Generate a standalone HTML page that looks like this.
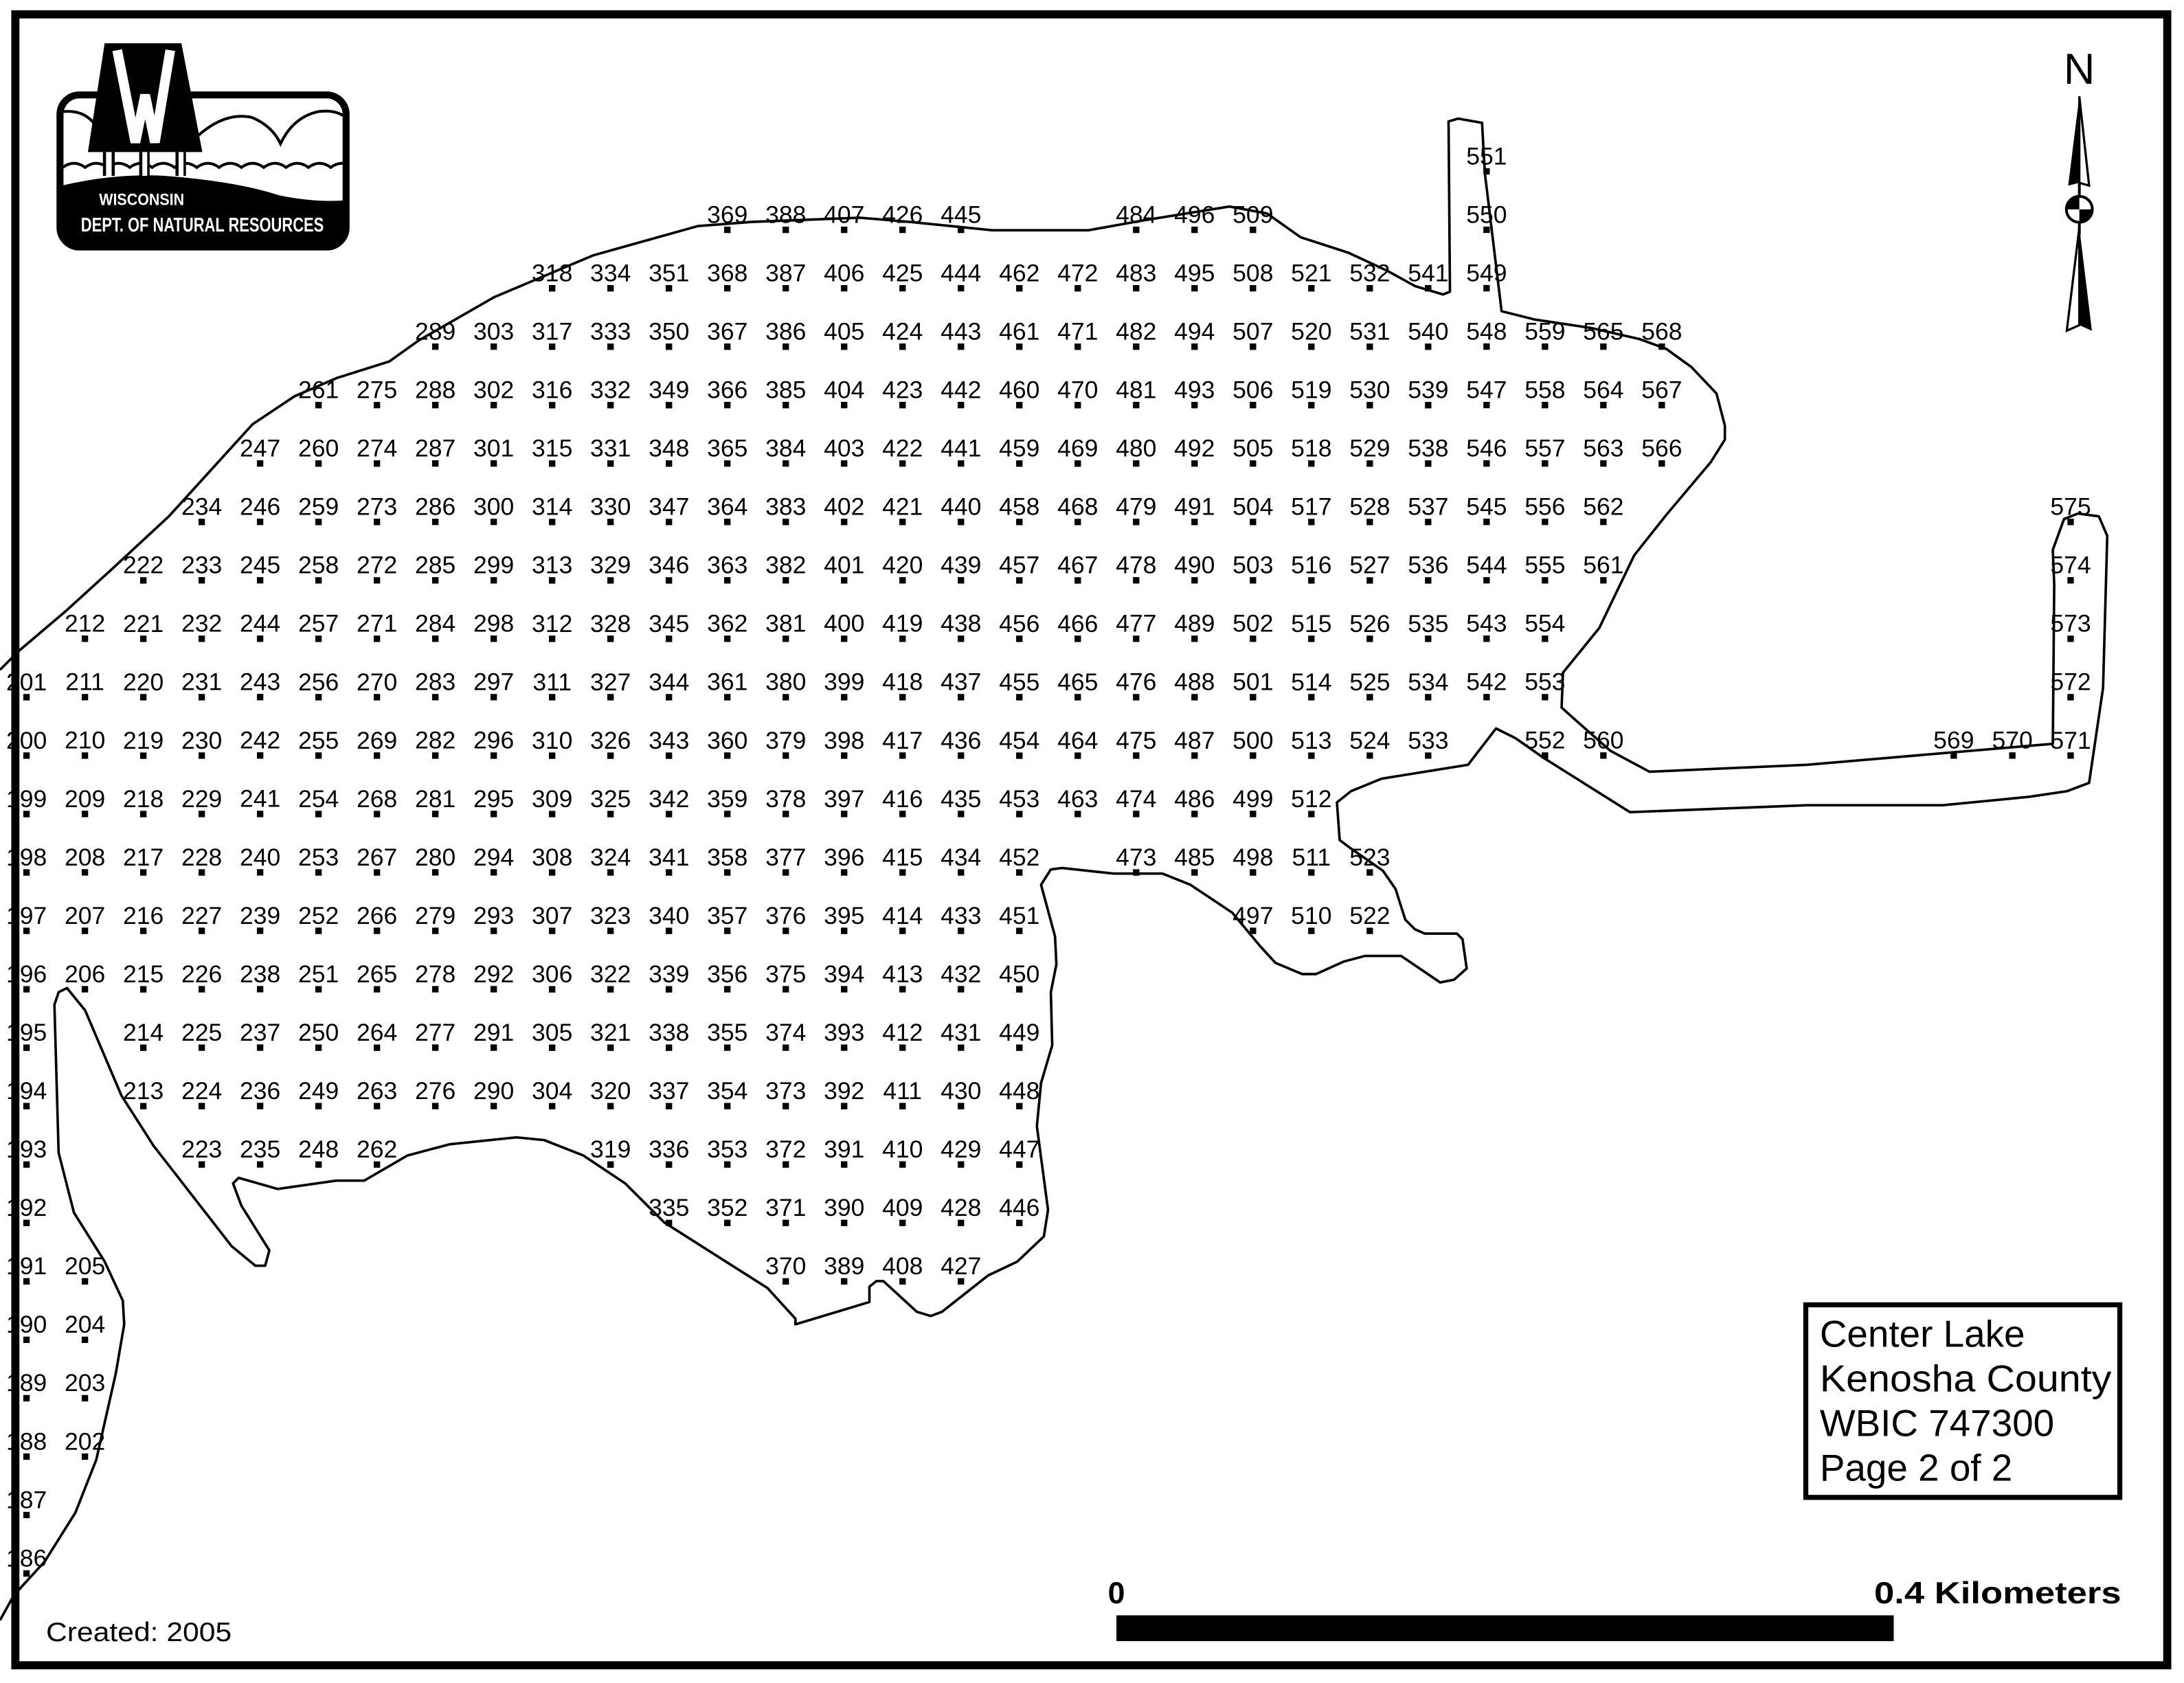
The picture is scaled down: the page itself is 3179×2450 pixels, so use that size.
<!DOCTYPE html>
<html><head><meta charset="utf-8"><style>
html,body{margin:0;padding:0;background:#fff}
svg{display:block}
.l{font-family:"Liberation Sans",sans-serif;font-size:17.5px;text-anchor:middle;fill:#000}
.d{stroke:#000;stroke-width:4.6;stroke-dasharray:4.6 37.26}
</style></head><body>
<svg width="3179" height="2450" viewBox="0 0 1565 1206" preserveAspectRatio="none" xmlns="http://www.w3.org/2000/svg">
<rect x="0" y="0" width="1565" height="1206" fill="#fff"/>
<defs><clipPath id="lc"><rect x="43" y="68" width="205" height="109" rx="14"/></clipPath></defs>

<polyline fill="none" stroke="#000" stroke-width="1.8" stroke-linejoin="round" points="0,480 14,466 47,438 80,408 121,370 181,304 211,284 241,271 279,259 300,244 354,213 425,183 500,162 539,159 616,156 652,159 711,165 780,165 819,158 881,148 908,153 932,170 966,181 994,194 1014,205 1034,211 1039,209 1038,87 1045,85 1062,88 1064,124 1076,223 1100,229 1140,235 1175,243 1194,250 1212,263 1230,282 1236,305 1236,315 1226,331 1194,369 1171,398 1146,450 1120,482 1119,507 1129,516 1154,538 1182,553 1295,548 1471,533 1472,419 1471,394 1479,372 1489,368 1504,370 1510,384 1507,493 1497,561 1481,567 1454,571 1392,577 1295,577 1168,582 1106,543 1086,529 1072,522 1052,548 990,558 968,567 958,575 960,602 968,608 991,624 1000,637 1007,659 1014,666 1021,669 1044,669 1048,673 1051,694 1042,702 1032,704 1004,685 978,685 963,689 943,698 933,698 914,690 903,678 883,654 853,634 833,626 798,626 761,622 753,623 746,634 756,671 757,691 753,711 754,749 746,776 743,807 751,867 748,886 729,904 708,914 675,940 667,943 657,940 633,918 628,918 623,922 623,933 570,949 570,945 550,923 476,876 448,848 418,828 390,817 370,815 322,820 292,828 261,846 241,846 199,852 171,844 167,848 173,864 193,896 190,907 183,907 166,893 110,821 87,785 61,724 48,708 42,711 39,720 42,826 53,869 75,904 88,932 89,949 83,984 69,1046 54,1084 32,1119 10,1143 0,1161"/>

<g class="d">
<line x1="19" x2="19" y1="497.3" y2="1129.8"/>
<line x1="60.85" x2="60.85" y1="455.4" y2="711.2"/>
<line x1="60.85" x2="60.85" y1="915.9" y2="1046.1"/>
<line x1="102.7" x2="102.7" y1="413.6" y2="794.9"/>
<line x1="144.55" x2="144.55" y1="371.7" y2="836.8"/>
<line x1="186.4" x2="186.4" y1="329.8" y2="836.8"/>
<line x1="228.25" x2="228.25" y1="288" y2="836.8"/>
<line x1="270.1" x2="270.1" y1="288" y2="836.8"/>
<line x1="311.95" x2="311.95" y1="246.1" y2="794.9"/>
<line x1="353.8" x2="353.8" y1="246.1" y2="794.9"/>
<line x1="395.65" x2="395.65" y1="204.3" y2="794.9"/>
<line x1="437.5" x2="437.5" y1="204.3" y2="836.8"/>
<line x1="479.35" x2="479.35" y1="204.3" y2="878.6"/>
<line x1="521.2" x2="521.2" y1="162.4" y2="878.6"/>
<line x1="563.05" x2="563.05" y1="162.4" y2="920.5"/>
<line x1="604.9" x2="604.9" y1="162.4" y2="920.5"/>
<line x1="646.75" x2="646.75" y1="162.4" y2="920.5"/>
<line x1="688.6" x2="688.6" y1="162.4" y2="920.5"/>
<line x1="730.45" x2="730.45" y1="204.3" y2="878.6"/>
<line x1="772.3" x2="772.3" y1="204.3" y2="585.6"/>
<line x1="814.15" x2="814.15" y1="162.4" y2="627.5"/>
<line x1="856" x2="856" y1="162.4" y2="627.5"/>
<line x1="897.85" x2="897.85" y1="162.4" y2="669.3"/>
<line x1="939.7" x2="939.7" y1="204.3" y2="669.3"/>
<line x1="981.55" x2="981.55" y1="204.3" y2="543.7"/>
<line x1="981.55" x2="981.55" y1="622.9" y2="669.3"/>
<line x1="1023.4" x2="1023.4" y1="204.3" y2="543.7"/>
<line x1="1065.25" x2="1065.25" y1="120.5" y2="501.9"/>
<line x1="1107.1" x2="1107.1" y1="246.1" y2="543.7"/>
<line x1="1148.95" x2="1148.95" y1="246.1" y2="418.2"/>
<line x1="1148.95" x2="1148.95" y1="539.1" y2="543.7"/>
<line x1="1190.8" x2="1190.8" y1="246.1" y2="334.4"/>
<line x1="1400" x2="1400" y1="539.1" y2="543.7"/>
<line x1="1442" x2="1442" y1="539.1" y2="543.7"/>
<line x1="1483.75" x2="1483.75" y1="371.7" y2="543.7"/>
</g>

<g class="l">
<g transform="translate(19,6.3)"><text y="488.3"><tspan x="0">201</tspan><tspan x="0" dy="41.86">200</tspan><tspan x="0" dy="41.86">199</tspan><tspan x="0" dy="41.86">198</tspan><tspan x="0" dy="41.86">197</tspan><tspan x="0" dy="41.86">196</tspan><tspan x="0" dy="41.86">195</tspan><tspan x="0" dy="41.86">194</tspan><tspan x="0" dy="41.86">193</tspan><tspan x="0" dy="41.86">192</tspan><tspan x="0" dy="41.86">191</tspan><tspan x="0" dy="41.86">190</tspan><tspan x="0" dy="41.86">189</tspan><tspan x="0" dy="41.86">188</tspan><tspan x="0" dy="41.86">187</tspan><tspan x="0" dy="41.86">186</tspan></text></g>
<g transform="translate(60.85,6.3)"><text y="446.4"><tspan x="0">212</tspan><tspan x="0" dy="41.86">211</tspan><tspan x="0" dy="41.86">210</tspan><tspan x="0" dy="41.86">209</tspan><tspan x="0" dy="41.86">208</tspan><tspan x="0" dy="41.86">207</tspan><tspan x="0" dy="41.86">206</tspan></text><text y="906.9"><tspan x="0">205</tspan><tspan x="0" dy="41.86">204</tspan><tspan x="0" dy="41.86">203</tspan><tspan x="0" dy="41.86">202</tspan></text></g>
<g transform="translate(102.7,6.3)"><text y="404.6"><tspan x="0">222</tspan><tspan x="0" dy="41.86">221</tspan><tspan x="0" dy="41.86">220</tspan><tspan x="0" dy="41.86">219</tspan><tspan x="0" dy="41.86">218</tspan><tspan x="0" dy="41.86">217</tspan><tspan x="0" dy="41.86">216</tspan><tspan x="0" dy="41.86">215</tspan><tspan x="0" dy="41.86">214</tspan><tspan x="0" dy="41.86">213</tspan></text></g>
<g transform="translate(144.55,6.3)"><text y="362.7"><tspan x="0">234</tspan><tspan x="0" dy="41.86">233</tspan><tspan x="0" dy="41.86">232</tspan><tspan x="0" dy="41.86">231</tspan><tspan x="0" dy="41.86">230</tspan><tspan x="0" dy="41.86">229</tspan><tspan x="0" dy="41.86">228</tspan><tspan x="0" dy="41.86">227</tspan><tspan x="0" dy="41.86">226</tspan><tspan x="0" dy="41.86">225</tspan><tspan x="0" dy="41.86">224</tspan><tspan x="0" dy="41.86">223</tspan></text></g>
<g transform="translate(186.4,6.3)"><text y="320.8"><tspan x="0">247</tspan><tspan x="0" dy="41.86">246</tspan><tspan x="0" dy="41.86">245</tspan><tspan x="0" dy="41.86">244</tspan><tspan x="0" dy="41.86">243</tspan><tspan x="0" dy="41.86">242</tspan><tspan x="0" dy="41.86">241</tspan><tspan x="0" dy="41.86">240</tspan><tspan x="0" dy="41.86">239</tspan><tspan x="0" dy="41.86">238</tspan><tspan x="0" dy="41.86">237</tspan><tspan x="0" dy="41.86">236</tspan><tspan x="0" dy="41.86">235</tspan></text></g>
<g transform="translate(228.25,6.3)"><text y="279"><tspan x="0">261</tspan><tspan x="0" dy="41.86">260</tspan><tspan x="0" dy="41.86">259</tspan><tspan x="0" dy="41.86">258</tspan><tspan x="0" dy="41.86">257</tspan><tspan x="0" dy="41.86">256</tspan><tspan x="0" dy="41.86">255</tspan><tspan x="0" dy="41.86">254</tspan><tspan x="0" dy="41.86">253</tspan><tspan x="0" dy="41.86">252</tspan><tspan x="0" dy="41.86">251</tspan><tspan x="0" dy="41.86">250</tspan><tspan x="0" dy="41.86">249</tspan><tspan x="0" dy="41.86">248</tspan></text></g>
<g transform="translate(270.1,6.3)"><text y="279"><tspan x="0">275</tspan><tspan x="0" dy="41.86">274</tspan><tspan x="0" dy="41.86">273</tspan><tspan x="0" dy="41.86">272</tspan><tspan x="0" dy="41.86">271</tspan><tspan x="0" dy="41.86">270</tspan><tspan x="0" dy="41.86">269</tspan><tspan x="0" dy="41.86">268</tspan><tspan x="0" dy="41.86">267</tspan><tspan x="0" dy="41.86">266</tspan><tspan x="0" dy="41.86">265</tspan><tspan x="0" dy="41.86">264</tspan><tspan x="0" dy="41.86">263</tspan><tspan x="0" dy="41.86">262</tspan></text></g>
<g transform="translate(311.95,6.3)"><text y="237.1"><tspan x="0">289</tspan><tspan x="0" dy="41.86">288</tspan><tspan x="0" dy="41.86">287</tspan><tspan x="0" dy="41.86">286</tspan><tspan x="0" dy="41.86">285</tspan><tspan x="0" dy="41.86">284</tspan><tspan x="0" dy="41.86">283</tspan><tspan x="0" dy="41.86">282</tspan><tspan x="0" dy="41.86">281</tspan><tspan x="0" dy="41.86">280</tspan><tspan x="0" dy="41.86">279</tspan><tspan x="0" dy="41.86">278</tspan><tspan x="0" dy="41.86">277</tspan><tspan x="0" dy="41.86">276</tspan></text></g>
<g transform="translate(353.8,6.3)"><text y="237.1"><tspan x="0">303</tspan><tspan x="0" dy="41.86">302</tspan><tspan x="0" dy="41.86">301</tspan><tspan x="0" dy="41.86">300</tspan><tspan x="0" dy="41.86">299</tspan><tspan x="0" dy="41.86">298</tspan><tspan x="0" dy="41.86">297</tspan><tspan x="0" dy="41.86">296</tspan><tspan x="0" dy="41.86">295</tspan><tspan x="0" dy="41.86">294</tspan><tspan x="0" dy="41.86">293</tspan><tspan x="0" dy="41.86">292</tspan><tspan x="0" dy="41.86">291</tspan><tspan x="0" dy="41.86">290</tspan></text></g>
<g transform="translate(395.65,6.3)"><text y="195.3"><tspan x="0">318</tspan><tspan x="0" dy="41.86">317</tspan><tspan x="0" dy="41.86">316</tspan><tspan x="0" dy="41.86">315</tspan><tspan x="0" dy="41.86">314</tspan><tspan x="0" dy="41.86">313</tspan><tspan x="0" dy="41.86">312</tspan><tspan x="0" dy="41.86">311</tspan><tspan x="0" dy="41.86">310</tspan><tspan x="0" dy="41.86">309</tspan><tspan x="0" dy="41.86">308</tspan><tspan x="0" dy="41.86">307</tspan><tspan x="0" dy="41.86">306</tspan><tspan x="0" dy="41.86">305</tspan><tspan x="0" dy="41.86">304</tspan></text></g>
<g transform="translate(437.5,6.3)"><text y="195.3"><tspan x="0">334</tspan><tspan x="0" dy="41.86">333</tspan><tspan x="0" dy="41.86">332</tspan><tspan x="0" dy="41.86">331</tspan><tspan x="0" dy="41.86">330</tspan><tspan x="0" dy="41.86">329</tspan><tspan x="0" dy="41.86">328</tspan><tspan x="0" dy="41.86">327</tspan><tspan x="0" dy="41.86">326</tspan><tspan x="0" dy="41.86">325</tspan><tspan x="0" dy="41.86">324</tspan><tspan x="0" dy="41.86">323</tspan><tspan x="0" dy="41.86">322</tspan><tspan x="0" dy="41.86">321</tspan><tspan x="0" dy="41.86">320</tspan><tspan x="0" dy="41.86">319</tspan></text></g>
<g transform="translate(479.35,6.3)"><text y="195.3"><tspan x="0">351</tspan><tspan x="0" dy="41.86">350</tspan><tspan x="0" dy="41.86">349</tspan><tspan x="0" dy="41.86">348</tspan><tspan x="0" dy="41.86">347</tspan><tspan x="0" dy="41.86">346</tspan><tspan x="0" dy="41.86">345</tspan><tspan x="0" dy="41.86">344</tspan><tspan x="0" dy="41.86">343</tspan><tspan x="0" dy="41.86">342</tspan><tspan x="0" dy="41.86">341</tspan><tspan x="0" dy="41.86">340</tspan><tspan x="0" dy="41.86">339</tspan><tspan x="0" dy="41.86">338</tspan><tspan x="0" dy="41.86">337</tspan><tspan x="0" dy="41.86">336</tspan><tspan x="0" dy="41.86">335</tspan></text></g>
<g transform="translate(521.2,6.3)"><text y="153.4"><tspan x="0">369</tspan><tspan x="0" dy="41.86">368</tspan><tspan x="0" dy="41.86">367</tspan><tspan x="0" dy="41.86">366</tspan><tspan x="0" dy="41.86">365</tspan><tspan x="0" dy="41.86">364</tspan><tspan x="0" dy="41.86">363</tspan><tspan x="0" dy="41.86">362</tspan><tspan x="0" dy="41.86">361</tspan><tspan x="0" dy="41.86">360</tspan><tspan x="0" dy="41.86">359</tspan><tspan x="0" dy="41.86">358</tspan><tspan x="0" dy="41.86">357</tspan><tspan x="0" dy="41.86">356</tspan><tspan x="0" dy="41.86">355</tspan><tspan x="0" dy="41.86">354</tspan><tspan x="0" dy="41.86">353</tspan><tspan x="0" dy="41.86">352</tspan></text></g>
<g transform="translate(563.05,6.3)"><text y="153.4"><tspan x="0">388</tspan><tspan x="0" dy="41.86">387</tspan><tspan x="0" dy="41.86">386</tspan><tspan x="0" dy="41.86">385</tspan><tspan x="0" dy="41.86">384</tspan><tspan x="0" dy="41.86">383</tspan><tspan x="0" dy="41.86">382</tspan><tspan x="0" dy="41.86">381</tspan><tspan x="0" dy="41.86">380</tspan><tspan x="0" dy="41.86">379</tspan><tspan x="0" dy="41.86">378</tspan><tspan x="0" dy="41.86">377</tspan><tspan x="0" dy="41.86">376</tspan><tspan x="0" dy="41.86">375</tspan><tspan x="0" dy="41.86">374</tspan><tspan x="0" dy="41.86">373</tspan><tspan x="0" dy="41.86">372</tspan><tspan x="0" dy="41.86">371</tspan><tspan x="0" dy="41.86">370</tspan></text></g>
<g transform="translate(604.9,6.3)"><text y="153.4"><tspan x="0">407</tspan><tspan x="0" dy="41.86">406</tspan><tspan x="0" dy="41.86">405</tspan><tspan x="0" dy="41.86">404</tspan><tspan x="0" dy="41.86">403</tspan><tspan x="0" dy="41.86">402</tspan><tspan x="0" dy="41.86">401</tspan><tspan x="0" dy="41.86">400</tspan><tspan x="0" dy="41.86">399</tspan><tspan x="0" dy="41.86">398</tspan><tspan x="0" dy="41.86">397</tspan><tspan x="0" dy="41.86">396</tspan><tspan x="0" dy="41.86">395</tspan><tspan x="0" dy="41.86">394</tspan><tspan x="0" dy="41.86">393</tspan><tspan x="0" dy="41.86">392</tspan><tspan x="0" dy="41.86">391</tspan><tspan x="0" dy="41.86">390</tspan><tspan x="0" dy="41.86">389</tspan></text></g>
<g transform="translate(646.75,6.3)"><text y="153.4"><tspan x="0">426</tspan><tspan x="0" dy="41.86">425</tspan><tspan x="0" dy="41.86">424</tspan><tspan x="0" dy="41.86">423</tspan><tspan x="0" dy="41.86">422</tspan><tspan x="0" dy="41.86">421</tspan><tspan x="0" dy="41.86">420</tspan><tspan x="0" dy="41.86">419</tspan><tspan x="0" dy="41.86">418</tspan><tspan x="0" dy="41.86">417</tspan><tspan x="0" dy="41.86">416</tspan><tspan x="0" dy="41.86">415</tspan><tspan x="0" dy="41.86">414</tspan><tspan x="0" dy="41.86">413</tspan><tspan x="0" dy="41.86">412</tspan><tspan x="0" dy="41.86">411</tspan><tspan x="0" dy="41.86">410</tspan><tspan x="0" dy="41.86">409</tspan><tspan x="0" dy="41.86">408</tspan></text></g>
<g transform="translate(688.6,6.3)"><text y="153.4"><tspan x="0">445</tspan><tspan x="0" dy="41.86">444</tspan><tspan x="0" dy="41.86">443</tspan><tspan x="0" dy="41.86">442</tspan><tspan x="0" dy="41.86">441</tspan><tspan x="0" dy="41.86">440</tspan><tspan x="0" dy="41.86">439</tspan><tspan x="0" dy="41.86">438</tspan><tspan x="0" dy="41.86">437</tspan><tspan x="0" dy="41.86">436</tspan><tspan x="0" dy="41.86">435</tspan><tspan x="0" dy="41.86">434</tspan><tspan x="0" dy="41.86">433</tspan><tspan x="0" dy="41.86">432</tspan><tspan x="0" dy="41.86">431</tspan><tspan x="0" dy="41.86">430</tspan><tspan x="0" dy="41.86">429</tspan><tspan x="0" dy="41.86">428</tspan><tspan x="0" dy="41.86">427</tspan></text></g>
<g transform="translate(730.45,6.3)"><text y="195.3"><tspan x="0">462</tspan><tspan x="0" dy="41.86">461</tspan><tspan x="0" dy="41.86">460</tspan><tspan x="0" dy="41.86">459</tspan><tspan x="0" dy="41.86">458</tspan><tspan x="0" dy="41.86">457</tspan><tspan x="0" dy="41.86">456</tspan><tspan x="0" dy="41.86">455</tspan><tspan x="0" dy="41.86">454</tspan><tspan x="0" dy="41.86">453</tspan><tspan x="0" dy="41.86">452</tspan><tspan x="0" dy="41.86">451</tspan><tspan x="0" dy="41.86">450</tspan><tspan x="0" dy="41.86">449</tspan><tspan x="0" dy="41.86">448</tspan><tspan x="0" dy="41.86">447</tspan><tspan x="0" dy="41.86">446</tspan></text></g>
<g transform="translate(772.3,6.3)"><text y="195.3"><tspan x="0">472</tspan><tspan x="0" dy="41.86">471</tspan><tspan x="0" dy="41.86">470</tspan><tspan x="0" dy="41.86">469</tspan><tspan x="0" dy="41.86">468</tspan><tspan x="0" dy="41.86">467</tspan><tspan x="0" dy="41.86">466</tspan><tspan x="0" dy="41.86">465</tspan><tspan x="0" dy="41.86">464</tspan><tspan x="0" dy="41.86">463</tspan></text></g>
<g transform="translate(814.15,6.3)"><text y="153.4"><tspan x="0">484</tspan><tspan x="0" dy="41.86">483</tspan><tspan x="0" dy="41.86">482</tspan><tspan x="0" dy="41.86">481</tspan><tspan x="0" dy="41.86">480</tspan><tspan x="0" dy="41.86">479</tspan><tspan x="0" dy="41.86">478</tspan><tspan x="0" dy="41.86">477</tspan><tspan x="0" dy="41.86">476</tspan><tspan x="0" dy="41.86">475</tspan><tspan x="0" dy="41.86">474</tspan><tspan x="0" dy="41.86">473</tspan></text></g>
<g transform="translate(856,6.3)"><text y="153.4"><tspan x="0">496</tspan><tspan x="0" dy="41.86">495</tspan><tspan x="0" dy="41.86">494</tspan><tspan x="0" dy="41.86">493</tspan><tspan x="0" dy="41.86">492</tspan><tspan x="0" dy="41.86">491</tspan><tspan x="0" dy="41.86">490</tspan><tspan x="0" dy="41.86">489</tspan><tspan x="0" dy="41.86">488</tspan><tspan x="0" dy="41.86">487</tspan><tspan x="0" dy="41.86">486</tspan><tspan x="0" dy="41.86">485</tspan></text></g>
<g transform="translate(897.85,6.3)"><text y="153.4"><tspan x="0">509</tspan><tspan x="0" dy="41.86">508</tspan><tspan x="0" dy="41.86">507</tspan><tspan x="0" dy="41.86">506</tspan><tspan x="0" dy="41.86">505</tspan><tspan x="0" dy="41.86">504</tspan><tspan x="0" dy="41.86">503</tspan><tspan x="0" dy="41.86">502</tspan><tspan x="0" dy="41.86">501</tspan><tspan x="0" dy="41.86">500</tspan><tspan x="0" dy="41.86">499</tspan><tspan x="0" dy="41.86">498</tspan><tspan x="0" dy="41.86">497</tspan></text></g>
<g transform="translate(939.7,6.3)"><text y="195.3"><tspan x="0">521</tspan><tspan x="0" dy="41.86">520</tspan><tspan x="0" dy="41.86">519</tspan><tspan x="0" dy="41.86">518</tspan><tspan x="0" dy="41.86">517</tspan><tspan x="0" dy="41.86">516</tspan><tspan x="0" dy="41.86">515</tspan><tspan x="0" dy="41.86">514</tspan><tspan x="0" dy="41.86">513</tspan><tspan x="0" dy="41.86">512</tspan><tspan x="0" dy="41.86">511</tspan><tspan x="0" dy="41.86">510</tspan></text></g>
<g transform="translate(981.55,6.3)"><text y="195.3"><tspan x="0">532</tspan><tspan x="0" dy="41.86">531</tspan><tspan x="0" dy="41.86">530</tspan><tspan x="0" dy="41.86">529</tspan><tspan x="0" dy="41.86">528</tspan><tspan x="0" dy="41.86">527</tspan><tspan x="0" dy="41.86">526</tspan><tspan x="0" dy="41.86">525</tspan><tspan x="0" dy="41.86">524</tspan></text><text y="613.9"><tspan x="0">523</tspan><tspan x="0" dy="41.86">522</tspan></text></g>
<g transform="translate(1023.4,6.3)"><text y="195.3"><tspan x="0">541</tspan><tspan x="0" dy="41.86">540</tspan><tspan x="0" dy="41.86">539</tspan><tspan x="0" dy="41.86">538</tspan><tspan x="0" dy="41.86">537</tspan><tspan x="0" dy="41.86">536</tspan><tspan x="0" dy="41.86">535</tspan><tspan x="0" dy="41.86">534</tspan><tspan x="0" dy="41.86">533</tspan></text></g>
<g transform="translate(1065.25,6.3)"><text y="111.5"><tspan x="0">551</tspan><tspan x="0" dy="41.86">550</tspan><tspan x="0" dy="41.86">549</tspan><tspan x="0" dy="41.86">548</tspan><tspan x="0" dy="41.86">547</tspan><tspan x="0" dy="41.86">546</tspan><tspan x="0" dy="41.86">545</tspan><tspan x="0" dy="41.86">544</tspan><tspan x="0" dy="41.86">543</tspan><tspan x="0" dy="41.86">542</tspan></text></g>
<g transform="translate(1107.1,6.3)"><text y="237.1"><tspan x="0">559</tspan><tspan x="0" dy="41.86">558</tspan><tspan x="0" dy="41.86">557</tspan><tspan x="0" dy="41.86">556</tspan><tspan x="0" dy="41.86">555</tspan><tspan x="0" dy="41.86">554</tspan><tspan x="0" dy="41.86">553</tspan><tspan x="0" dy="41.86">552</tspan></text></g>
<g transform="translate(1148.95,6.3)"><text y="237.1"><tspan x="0">565</tspan><tspan x="0" dy="41.86">564</tspan><tspan x="0" dy="41.86">563</tspan><tspan x="0" dy="41.86">562</tspan><tspan x="0" dy="41.86">561</tspan></text><text y="530.1">560</text></g>
<g transform="translate(1190.8,6.3)"><text y="237.1"><tspan x="0">568</tspan><tspan x="0" dy="41.86">567</tspan><tspan x="0" dy="41.86">566</tspan></text></g>
<text x="1400" y="536.4">569</text>
<text x="1442" y="536.4">570</text>
<g transform="translate(1483.75,6.3)"><text y="362.7"><tspan x="0">575</tspan><tspan x="0" dy="41.86">574</tspan><tspan x="0" dy="41.86">573</tspan><tspan x="0" dy="41.86">572</tspan><tspan x="0" dy="41.86">571</tspan></text></g>
</g>

<rect x="11" y="10.3" width="1542" height="1183" fill="none" stroke="#000" stroke-width="5.8"/>

<g clip-path="url(#lc)">
<rect x="43" y="68" width="205" height="109" fill="#fff"/>
<path d="M45,80 Q64,78 72,96 M140,99 Q160,80 180,84 Q195,90 201,103 Q210,84 228,80 Q242,78 250,86" fill="none" stroke="#000" stroke-width="2"/>
<path d="M45,120 q8,-6 16,0 q8,-6 16,0 q8,-6 16,0 q8,-6 16,0 q8,-6 16,0 q8,-6 16,0 q8,-6 16,0 q8,-6 16,0 q8,-6 16,0 q8,-6 16,0 q8,-6 16,0 q8,-6 16,0 q8,-6 16,0" fill="none" stroke="#000" stroke-width="2"/>
<path d="M40,134 Q80,124 118,126 Q170,130 200,140 Q230,146 252,143 L252,180 L40,180 Z" fill="#000"/>
</g>
<rect x="43" y="68" width="205" height="109" rx="14" fill="none" stroke="#000" stroke-width="5"/>
<polygon points="75,31 130,31 145,109 63,109" fill="#000"/>
<polyline points="84,36 97,102 104,68 111,102 122,36" fill="none" stroke="#fff" stroke-width="7" stroke-linejoin="miter"/>
<path d="M75,109 v17 M81,109 v17 M101,109 v17 M106,109 v17 M127,109 v17 M132,109 v17" stroke="#000" stroke-width="2.5"/>
<rect x="76" y="109" width="4" height="17" fill="#fff"/>
<rect x="102" y="109" width="3.5" height="17" fill="#fff"/>
<rect x="128" y="109" width="3.5" height="17" fill="#fff"/>
<text x="71" y="147" font-family="Liberation Sans, sans-serif" font-weight="bold" font-size="12" fill="#fff" textLength="61" lengthAdjust="spacingAndGlyphs">WISCONSIN</text>
<text x="58" y="166" font-family="Liberation Sans, sans-serif" font-weight="bold" font-size="14" fill="#fff" textLength="174" lengthAdjust="spacingAndGlyphs">DEPT. OF NATURAL RESOURCES</text>

<text x="1490" y="60" font-family="Liberation Sans, sans-serif" font-size="31" text-anchor="middle">N</text>
<polygon points="1490,69 1482,133 1490,131" fill="#000"/>
<polygon points="1490,69 1497,133 1490,131" fill="#fff" stroke="#000" stroke-width="1.6"/>
<line x1="1490" y1="131" x2="1490" y2="168" stroke="#000" stroke-width="2"/>
<circle cx="1490" cy="150" r="9.3" fill="#fff" stroke="#000" stroke-width="2"/>
<path d="M1490,150 L1480.7,150 A9.3,9.3 0 0 1 1490,140.7 Z M1490,150 L1499.3,150 A9.3,9.3 0 0 1 1490,159.3 Z" fill="#000"/>
<polygon points="1490,163 1481,237 1490,233" fill="#fff" stroke="#000" stroke-width="1.6"/>
<polygon points="1490,163 1499,237 1490,233" fill="#000"/>

<rect x="1294" y="935" width="225" height="138" fill="#fff" stroke="#000" stroke-width="3.6"/>
<g font-family="Liberation Sans, sans-serif" font-size="27" fill="#000">
<text x="1304" y="965">Center Lake</text>
<text x="1304" y="997" textLength="209" lengthAdjust="spacingAndGlyphs">Kenosha County</text>
<text x="1304" y="1029">WBIC 747300</text>
<text x="1304" y="1061">Page 2 of 2</text>
</g>

<rect x="800" y="1157.5" width="557" height="18.5" fill="#000"/>
<g font-family="Liberation Sans, sans-serif" font-weight="bold" font-size="22" fill="#000">
<text x="800" y="1149" text-anchor="middle">0</text>
<text x="1343" y="1149" textLength="177" lengthAdjust="spacingAndGlyphs">0.4  Kilometers</text>
</g>
<text x="33" y="1176" font-family="Liberation Sans, sans-serif" font-size="19" textLength="133" lengthAdjust="spacingAndGlyphs">Created: 2005</text>
</svg>
</body></html>
